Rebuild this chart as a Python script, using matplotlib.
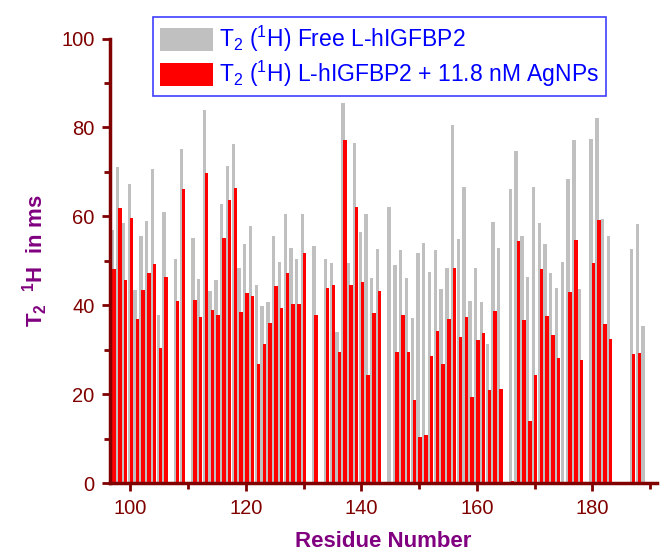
import numpy as np
import matplotlib.pyplot as plt
from matplotlib.ticker import MultipleLocator
from matplotlib.patches import Patch

plt.rcParams['font.family'] = ['Liberation Sans', 'DejaVu Sans']
plt.rcParams['mathtext.fontset'] = 'custom'
plt.rcParams['mathtext.rm'] = 'Liberation Sans'
plt.rcParams['mathtext.it'] = 'Liberation Sans:italic'
plt.rcParams['mathtext.bf'] = 'Liberation Sans:bold'

nan = np.nan

# residue numbers 97..189, NaN = not measured
residues = np.arange(97, 190)

t2_free = [56.9, 71.1, 58.6, 67.2, 43.4, 55.7, 59.0, 70.6, 37.9, 60.9,   # 97-106
           nan, 50.4, 75.2, nan, 55.2, 46.0, 84.0, 43.2, 45.8, 62.7,     # 107-116
           71.4, 76.2, 48.5, 53.9, 57.8, 44.6, 39.9, 40.7, 55.6, 49.7,   # 117-126
           60.5, 53.0, 50.5, 60.5, nan, 53.3, nan, 50.4, 49.5, 34.0,     # 127-136
           85.5, 49.6, 76.6, 56.6, 60.5, 46.1, 52.7, nan, 62.2, 49.1,    # 137-146
           52.4, 46.2, 37.1, 51.8, 54.1, 47.6, 52.4, 43.7, 48.5, 80.6,   # 147-156
           54.9, 66.6, 41.0, 48.5, 40.7, 31.2, 58.8, 53.0, nan, 66.1,    # 157-166
           74.7, 55.7, 46.3, 66.5, 58.6, 53.9, 47.3, 44.0, 49.7, 68.3,   # 167-176
           77.1, 43.7, nan, 77.4, 82.2, 59.4, 55.6, nan, nan, nan,       # 177-186
           52.7, 58.3, 35.4]                                             # 187-189

t2_agnp = [48.2, 61.8, 45.8, 59.7, 36.9, 43.5, 47.2, 49.4, 30.4, 46.3,
           nan, 41.0, 66.1, nan, 41.3, 37.4, 69.7, 38.9, 37.9, 55.2,
           63.6, 66.4, 38.5, 42.7, 42.1, 26.8, 31.2, 36.0, 44.3, 39.3,
           47.3, 40.4, 40.4, 51.8, nan, 37.9, nan, 44.0, 44.6, 29.5,
           77.1, 44.6, 62.2, 45.2, 24.3, 38.2, 43.3, nan, nan, 29.5,
           37.8, 29.5, 18.7, 10.4, 10.9, 28.7, 34.2, 26.7, 36.9, 48.5,
           32.9, 37.3, 19.3, 32.1, 33.8, 20.9, 38.8, 21.2, nan, 0.5,
           54.4, 36.8, 13.9, 24.3, 48.2, 37.7, 33.3, 28.2, nan, 43.1,
           54.8, 27.6, nan, 49.6, 59.1, 35.7, 32.4, nan, nan, nan,
           29.1, 29.3, nan]

dark_red = '#800000'
purple = '#800080'

fig = plt.figure(figsize=(6.69, 5.58), dpi=100)
ax = fig.add_axes([0.164, 0.134, 0.818, 0.797])

ax.bar(residues - 0.2, t2_free, width=0.58, color='#c0c0c0', linewidth=0, zorder=2)
ax.bar(residues + 0.17, t2_agnp, width=0.6, color='#ff0000', linewidth=0, zorder=3)

ax.set_xlim(96.4, 191.2)
ax.set_ylim(0, 100)
ax.xaxis.set_major_locator(MultipleLocator(20))
ax.xaxis.set_minor_locator(MultipleLocator(10))
ax.yaxis.set_major_locator(MultipleLocator(20))
ax.yaxis.set_minor_locator(MultipleLocator(10))

for s in ['top', 'right']:
    ax.spines[s].set_visible(False)
for s in ['left', 'bottom']:
    ax.spines[s].set_color(dark_red)
    ax.spines[s].set_linewidth(2.5)
    ax.spines[s].set_zorder(5)

ax.tick_params(which='both', direction='out', color=dark_red, width=2,
               labelcolor=dark_red, labelsize=14.5)
ax.tick_params(which='major', length=6, pad=5)
ax.tick_params(which='minor', length=4)

ax.set_xlabel('Residue Number', fontsize=16, fontweight='bold', color=purple, labelpad=10)
ax.set_ylabel(r'T$_\mathbf{2}$  $^\mathbf{1}$H  in ms', fontsize=16, fontweight='bold',
              color=purple, labelpad=8)

handles = [Patch(facecolor='#c0c0c0', edgecolor='none'),
           Patch(facecolor='#ff0000', edgecolor='none')]
labels = [r'T$_2$ ($^1$H) Free L-hIGFBP2',
          r'T$_2$ ($^1$H) L-hIGFBP2 + 11.8 nM AgNPs']
leg = fig.legend(handles, labels, loc='upper left', bbox_to_anchor=(153 / 669, 1 - 17 / 558),
                 fontsize=16.5, fancybox=False, framealpha=1, edgecolor='#4040ff',
                 handlelength=2.3, handleheight=1.15, handletextpad=0.3,
                 borderpad=0.3, labelspacing=0.22, borderaxespad=0)
leg.get_frame().set_linewidth(1.2)
for t in leg.get_texts():
    t.set_color('#0000ff')

fig.savefig('out.png', dpi=100)
